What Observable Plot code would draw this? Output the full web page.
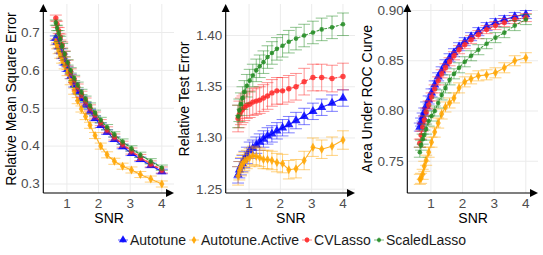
<!DOCTYPE html>
<html>
<head>
<meta charset="utf-8">
<script src="https://cdn.jsdelivr.net/npm/d3@7"></script>
<script src="https://cdn.jsdelivr.net/npm/@observablehq/plot@0.6"></script>
<style>
  html, body { margin: 0; padding: 0; background: #ffffff; }
  body { font-family: "Liberation Sans", Arial, Helvetica, sans-serif; }
  #root { position: relative; width: 543px; height: 255px; overflow: hidden; }
  .panel { position: absolute; top: 0; }
  #legend { position: absolute; top: 231px; left: 116.7px; height: 18px; display: flex; align-items: center; font-size: 14px; color: #1a1a1a; white-space: nowrap; }
  .item { display: flex; align-items: center; margin-right: 1.7px; }
  .item svg { display: block; }
  .item span { margin-left: 1.3px; line-height: 18px; }
</style>
</head>
<body>
<div id="root"></div>
<script>
// ---- data ----
const snr = [0.65, 0.69, 0.74, 0.79, 0.85, 0.93, 1.02, 1.12, 1.23, 1.34, 1.46, 1.59, 1.73, 1.89, 2.07, 2.27, 2.50, 2.76, 3.04, 3.32, 3.65, 4.0];
const methods = ["Autotune", "Autotune.Active", "CVLasso", "ScaledLasso"];
const colors = ["#0000FF", "#FFA500", "#FF2A2A", "#228B22"];
const symbols = ["triangle", "diamond", "circle", "circle"];
const xTicks = [1, 2, 3, 4];

// Panel 1: Relative Mean Square Error
const mseAutotune = [0.685, 0.675, 0.663, 0.651, 0.637, 0.620, 0.603, 0.584, 0.562, 0.544, 0.526, 0.509, 0.491, 0.473, 0.455, 0.437, 0.418, 0.399, 0.381, 0.365, 0.349, 0.333];
const mseActive   = [0.675, 0.665, 0.652, 0.640, 0.627, 0.612, 0.594, 0.570, 0.545, 0.520, 0.498, 0.478, 0.455, 0.428, 0.400, 0.377, 0.360, 0.347, 0.337, 0.325, 0.313, 0.300];
const mseCV       = [0.738, 0.722, 0.705, 0.688, 0.667, 0.643, 0.619, 0.596, 0.575, 0.556, 0.537, 0.519, 0.501, 0.482, 0.462, 0.443, 0.424, 0.405, 0.387, 0.370, 0.353, 0.337];
const mseScaled   = [0.726, 0.712, 0.698, 0.683, 0.664, 0.643, 0.621, 0.600, 0.580, 0.562, 0.543, 0.525, 0.507, 0.488, 0.469, 0.450, 0.431, 0.412, 0.394, 0.377, 0.360, 0.343];
const mseErr = [0.006, 0.008, 0.008, 0.007];
const mseTicks = [0.3, 0.4, 0.5, 0.6, 0.7];

// Panel 2: Relative Test Error
const rteAutotune = [1.264, 1.269, 1.272, 1.275, 1.279, 1.283, 1.288, 1.290, 1.293, 1.296, 1.299, 1.302, 1.304, 1.307, 1.310, 1.313, 1.317, 1.321, 1.326, 1.330, 1.334, 1.339];
const rteActive   = [1.263, 1.268, 1.272, 1.275, 1.277, 1.279, 1.281, 1.283, 1.282, 1.281, 1.279, 1.279, 1.278, 1.276, 1.275, 1.269, 1.270, 1.278, 1.291, 1.289, 1.292, 1.298];
const rteCV       = [1.319, 1.323, 1.326, 1.328, 1.330, 1.332, 1.333, 1.335, 1.336, 1.337, 1.339, 1.341, 1.344, 1.346, 1.346, 1.348, 1.350, 1.355, 1.359, 1.359, 1.358, 1.360];
const rteScaled   = [1.321, 1.327, 1.333, 1.339, 1.345, 1.351, 1.356, 1.361, 1.366, 1.370, 1.374, 1.379, 1.383, 1.387, 1.390, 1.394, 1.397, 1.400, 1.403, 1.406, 1.408, 1.411];
const rteErr = [0.008, 0.009, 0.013, 0.011];
const rteTicks = [1.25, 1.30, 1.35, 1.40];

// Panel 3: Area Under ROC Curve
const aucAutotune = [0.784, 0.789, 0.794, 0.799, 0.805, 0.811, 0.818, 0.826, 0.834, 0.840, 0.847, 0.853, 0.858, 0.864, 0.869, 0.874, 0.879, 0.884, 0.888, 0.891, 0.894, 0.896];
const aucActive   = [0.732, 0.733, 0.737, 0.745, 0.751, 0.759, 0.769, 0.779, 0.788, 0.797, 0.804, 0.808, 0.813, 0.823, 0.829, 0.832, 0.835, 0.836, 0.838, 0.843, 0.850, 0.853];
const aucCV       = [0.768, 0.776, 0.784, 0.791, 0.799, 0.806, 0.814, 0.822, 0.830, 0.837, 0.843, 0.849, 0.855, 0.861, 0.866, 0.871, 0.876, 0.881, 0.885, 0.888, 0.891, 0.893];
const aucScaled   = [0.759, 0.766, 0.772, 0.776, 0.782, 0.790, 0.795, 0.800, 0.808, 0.816, 0.823, 0.831, 0.837, 0.843, 0.849, 0.855, 0.861, 0.867, 0.873, 0.878, 0.885, 0.891];
const aucErr = [0.004, 0.005, 0.004, 0.005];
const aucTicks = [0.75, 0.80, 0.85, 0.90];

// ---- styling ----
const FONT = "'Liberation Sans', Arial, Helvetica, sans-serif";
const xDomain = [0.27, 4.4];
const capHalf = 0.19;
const dotR = [3.4, 2.7, 2.7, 2.3];
const dashes = [null, null, "3,2", "2,2"];

function buildRows(series, errs) {
  const out = [];
  series.forEach((vals, m) => vals.forEach((v, i) => {
    out.push({m, method: methods[m], snr: snr[i], value: v, lo: v - errs[m], hi: v + errs[m]});
  }));
  return out;
}

function makePanel(cfg) {
  const data = buildRows(cfg.series, cfg.errs);
  const marks = [
    Plot.gridX(xTicks, {stroke: "#EBEBEB", strokeOpacity: 1, strokeWidth: 1}),
    Plot.gridY(cfg.yTicks, {stroke: "#EBEBEB", strokeOpacity: 1, strokeWidth: 1}),
    Plot.axisX(xTicks, {tickSize: 0, tickPadding: 5, fontSize: 13.5, fill: "#4D4D4D", label: null}),
    Plot.axisY(cfg.yTicks, {tickSize: 0, tickPadding: 4, fontSize: 13.5, fill: "#4D4D4D", label: null, tickFormat: d3.format(cfg.fmt)})
  ];
  methods.forEach((name, m) => {
    const d = data.filter(r => r.m === m);
    const c = colors[m];
    marks.push(
      Plot.link(d, {x1: "snr", x2: "snr", y1: "lo", y2: "hi", stroke: c, strokeOpacity: 0.5, strokeWidth: 1}),
      Plot.link(d, {x1: r => r.snr - capHalf, x2: r => r.snr + capHalf, y1: "hi", y2: "hi", stroke: c, strokeOpacity: 0.5, strokeWidth: 1}),
      Plot.link(d, {x1: r => r.snr - capHalf, x2: r => r.snr + capHalf, y1: "lo", y2: "lo", stroke: c, strokeOpacity: 0.5, strokeWidth: 1}),
      Plot.line(d, {x: "snr", y: "value", stroke: c, strokeWidth: 1.1, strokeOpacity: 0.85, strokeDasharray: dashes[m]}),
      Plot.dot(d, {x: "snr", y: "value", symbol: symbols[m], fill: c, fillOpacity: 0.85, r: dotR[m], stroke: "none"})
    );
  });
  marks.push(
    Plot.text(["SNR"], {frameAnchor: "bottom", dy: 25, text: d => d, fontSize: 14, fill: "#000", lineAnchor: "middle", textAnchor: "middle"}),
    Plot.text([cfg.yLabel], {frameAnchor: "left", dx: cfg.titleDx, rotate: -90, text: d => d, fontSize: 14, fill: "#000", lineAnchor: "middle", textAnchor: "middle"})
  );
  const p = Plot.plot({
    width: cfg.width, height: 225,
    marginLeft: cfg.ml, marginRight: cfg.mr, marginTop: 4, marginBottom: 32,
    x: {domain: xDomain},
    y: {domain: cfg.yDomain},
    style: {fontFamily: FONT, fontSize: "13.5px", background: "transparent", overflow: "visible"},
    marks
  });
  // axis lines with closed arrowheads, positioned from the scales
  const [xa, xb] = p.scale("x").range;
  const [yb, yt] = p.scale("y").range;
  const g = d3.select(p).append("g").attr("fill", "#000").attr("stroke", "#000");
  g.append("line").attr("x1", xa).attr("y1", yb).attr("x2", xa).attr("y2", yt + 6).attr("stroke-width", 1.1);
  g.append("line").attr("x1", xa).attr("y1", yb).attr("x2", xb - 6).attr("y2", yb).attr("stroke-width", 1.1);
  g.append("path").attr("stroke", "none").attr("d", `M${xa},${yt}L${xa - 4},${yt + 8}L${xa + 4},${yt + 8}Z`);
  g.append("path").attr("stroke", "none").attr("d", `M${xb},${yb}L${xb - 8},${yb - 4}L${xb - 8},${yb + 4}Z`);
  p.classList.add("panel");
  p.style.left = cfg.left + "px";
  return p;
}

const root = document.getElementById("root");
root.append(makePanel({
  series: [mseAutotune, mseActive, mseCV, mseScaled], errs: mseErr,
  yTicks: mseTicks, fmt: ".1f", yDomain: [0.2749, 0.7739], yLabel: "Relative Mean Square Error",
  left: 0, width: 178, ml: 43.3, mr: 4, titleDx: -32.3
}));
root.append(makePanel({
  series: [rteAutotune, rteActive, rteCV, rteScaled], errs: rteErr,
  yTicks: rteTicks, fmt: ".2f", yDomain: [1.2458, 1.4303], yLabel: "Relative Test Error",
  left: 175, width: 183, ml: 50.7, mr: 3, titleDx: -41.2
}));
root.append(makePanel({
  series: [aucAutotune, aucActive, aucCV, aucScaled], errs: aucErr,
  yTicks: aucTicks, fmt: ".2f", yDomain: [0.7179, 0.906], yLabel: "Area Under ROC Curve",
  left: 358, width: 185, ml: 49.3, mr: 5, titleDx: -40.3
}));

// ---- legend ----
const legend = document.createElement("div");
legend.id = "legend";
const symbolTypes = {triangle: d3.symbolTriangle, diamond: d3.symbolDiamond, circle: d3.symbolCircle};
methods.forEach((name, m) => {
  const item = document.createElement("div");
  item.className = "item";
  const svg = d3.create("svg").attr("width", 12).attr("height", 14);
  svg.append("line").attr("x1", 1).attr("x2", 11).attr("y1", 7).attr("y2", 7)
    .attr("stroke", colors[m]).attr("stroke-opacity", 0.6).attr("stroke-width", 1);
  svg.append("line").attr("x1", 6).attr("x2", 6).attr("y1", 4).attr("y2", 10)
    .attr("stroke", colors[m]).attr("stroke-opacity", 0.4).attr("stroke-width", 1);
  svg.append("path").attr("transform", "translate(6,7)")
    .attr("d", d3.symbol().type(symbolTypes[symbols[m]]).size(Math.PI * dotR[m] * dotR[m] * 0.8)())
    .attr("fill", colors[m]).attr("fill-opacity", 0.9);
  item.append(svg.node());
  const span = document.createElement("span");
  span.textContent = name;
  item.append(span);
  legend.append(item);
});
root.append(legend);
</script>
</body>
</html>
